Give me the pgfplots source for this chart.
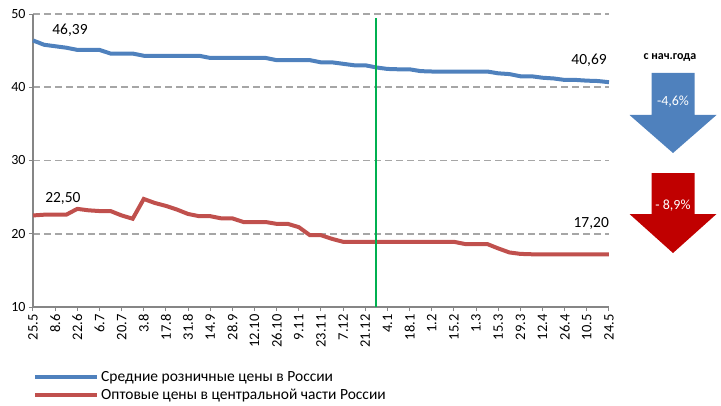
\documentclass[border=0pt]{standalone}
\usepackage{pgfplots}
\pgfplotsset{compat=1.18}
\usepackage{pgfplotstable}
\usepackage{fontspec}
\setmainfont{Carlito}
\definecolor{myblue}{HTML}{4F81BD}
\definecolor{myred}{HTML}{C0504D}
\definecolor{arrred}{HTML}{C00000}
\definecolor{gridgray}{HTML}{A6A6A6}
\definecolor{axgray}{HTML}{868686}
\definecolor{vgreen}{HTML}{00B050}

\pgfplotstableread{
x y
0 46.39
1 45.8
2 45.6
3 45.4
4 45.1
5 45.1
6 45.1
7 44.6
8 44.6
9 44.6
10 44.3
11 44.3
12 44.3
13 44.3
14 44.3
15 44.3
16 44.0
17 44.0
18 44.0
19 44.0
20 44.0
21 44.0
22 43.7
23 43.7
24 43.7
25 43.7
26 43.4
27 43.4
28 43.2
29 43.0
30 43.0
31 42.7
32 42.5
33 42.45
34 42.45
35 42.2
36 42.15
37 42.15
38 42.15
39 42.15
40 42.15
41 42.15
42 41.9
43 41.8
44 41.5
45 41.5
46 41.3
47 41.2
48 41.0
49 41.0
50 40.9
51 40.85
52 40.69
}\retail

\pgfplotstableread{
x y
0 22.50
1 22.6
2 22.6
3 22.6
4 23.4
5 23.2
6 23.1
7 23.1
8 22.5
9 22.05
10 24.75
11 24.2
12 23.8
13 23.3
14 22.7
15 22.4
16 22.4
17 22.1
18 22.1
19 21.6
20 21.6
21 21.6
22 21.35
23 21.35
24 20.9
25 19.8
26 19.8
27 19.3
28 18.9
29 18.9
30 18.9
31 18.9
32 18.9
33 18.9
34 18.9
35 18.9
36 18.9
37 18.9
38 18.9
39 18.6
40 18.6
41 18.6
42 18.0
43 17.45
44 17.25
45 17.2
46 17.2
47 17.2
48 17.2
49 17.2
50 17.2
51 17.2
52 17.2
}\wholesale

\begin{document}
\begin{tikzpicture}[x=1pt,y=1pt]
\path[use as bounding box] (-33,-98) rectangle (688,307);
\begin{axis}[at={(0,0)}, anchor=south west, scale only axis,
  width=576pt, height=293pt,
  xmin=0, xmax=52, ymin=10, ymax=50, clip=false,
  axis x line=bottom, axis y line=left,
  axis line style={-, axgray, line width=1.2pt},
  xtick={0,2,...,52},
  xticklabels={25.5,8.6,22.6,6.7,20.7,3.8,17.8,31.8,14.9,28.9,12.10,26.10,9.11,23.11,7.12,21.12,4.1,18.1,1.2,15.2,1.3,15.3,29.3,12.4,26.4,10.5,24.5},
  x tick label style={rotate=90, anchor=east, font=\fontsize{14.5}{16}\selectfont},
  ytick={10,20,30,40,50},
  y tick label style={font=\fontsize{14}{16}\selectfont},
  tick style={axgray, line width=1pt}, tick align=outside, major tick length=4pt,
  ymajorgrids, grid style={gridgray, line width=1.6pt, dash pattern=on 7pt off 4pt},
  /pgf/number format/assume math mode=true,
  legend style={at={(0.0,-0.212)}, anchor=north west, draw=none, fill=none,
    font=\fontsize{15.5}{17}\selectfont, row sep=2pt, inner sep=0pt},
  legend cell align=left,
  legend image code/.code={\draw[#1, line width=4pt] (0pt,0pt) -- (62pt,0pt);},
]
\addplot[myblue, line width=4pt] table[x=x,y=y]{\retail};
\addlegendentry{Средние розничные цены в России}
\addplot[myred, line width=4pt] table[x=x,y=y]{\wholesale};
\addlegendentry{Оптовые цены в центральной части России}
\addplot[vgreen, line width=2pt, forget plot] coordinates {(31,10) (31,49.45)};
\node[font=\fontsize{15.5}{17}\selectfont] at (axis cs:3.34,47.8) {46,39};
\node[font=\fontsize{15.5}{17}\selectfont] at (axis cs:2.7,24.76) {22,50};
\node[font=\fontsize{15.5}{17}\selectfont] at (axis cs:50.2,43.72) {40,69};
\node[font=\fontsize{15.5}{17}\selectfont] at (axis cs:50.4,21.35) {17,20};
\end{axis}
\fill[myblue] (618.5,234) -- (661.5,234) -- (661.5,192) -- (683.5,192) -- (640,154) -- (596.5,192) -- (618.5,192) -- cycle;
\fill[arrred] (618.5,134) -- (661.5,134) -- (661.5,93) -- (683.5,93) -- (640,54) -- (596.5,93) -- (618.5,93) -- cycle;
\node[white, font=\fontsize{14}{16}\selectfont] at (640,205) {-4,6\%};
\node[white, font=\fontsize{14}{16}\selectfont] at (640,101) {- 8,9\%};
\node[font=\bfseries\fontsize{12}{14}\selectfont] at (637,249) {с нач.года};
\end{tikzpicture}
\end{document}
